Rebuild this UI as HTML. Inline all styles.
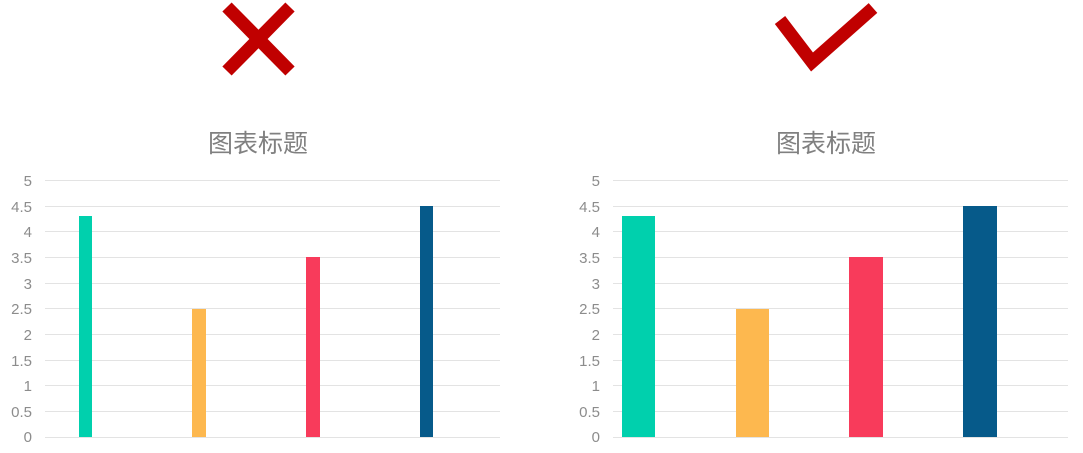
<!DOCTYPE html>
<html><head><meta charset="utf-8"><style>
html,body{margin:0;padding:0;background:#fff;width:1083px;height:453px;overflow:hidden}
svg text{font-family:"Liberation Sans","Noto Sans CJK SC",sans-serif}
</style></head><body>
<svg width="1083" height="453" viewBox="0 0 1083 453" xmlns="http://www.w3.org/2000/svg">
<g stroke="#c00000" stroke-width="13" fill="none" stroke-linecap="butt">
<line x1="227" y1="7" x2="290" y2="71"/>
<line x1="290" y1="7" x2="227" y2="71"/>
<polyline points="780,20 812,62 873,8"/>
</g>
<g font-size="25" fill="#808080" text-anchor="middle">
<text x="258" y="152">图表标题</text>
<text x="826" y="152">图表标题</text>
</g>
<g stroke="#e3e3e3" stroke-width="1">
<line x1="45" x2="500" y1="180.5" y2="180.5"/><line x1="45" x2="500" y1="206.5" y2="206.5"/>
<line x1="45" x2="500" y1="231.5" y2="231.5"/><line x1="45" x2="500" y1="257.5" y2="257.5"/>
<line x1="45" x2="500" y1="283.5" y2="283.5"/><line x1="45" x2="500" y1="308.5" y2="308.5"/>
<line x1="45" x2="500" y1="334.5" y2="334.5"/><line x1="45" x2="500" y1="360.5" y2="360.5"/>
<line x1="45" x2="500" y1="385.5" y2="385.5"/><line x1="45" x2="500" y1="411.5" y2="411.5"/>
<line x1="45" x2="500" y1="437.5" y2="437.5"/>
<line x1="613" x2="1068" y1="180.5" y2="180.5"/><line x1="613" x2="1068" y1="206.5" y2="206.5"/>
<line x1="613" x2="1068" y1="231.5" y2="231.5"/><line x1="613" x2="1068" y1="257.5" y2="257.5"/>
<line x1="613" x2="1068" y1="283.5" y2="283.5"/><line x1="613" x2="1068" y1="308.5" y2="308.5"/>
<line x1="613" x2="1068" y1="334.5" y2="334.5"/><line x1="613" x2="1068" y1="360.5" y2="360.5"/>
<line x1="613" x2="1068" y1="385.5" y2="385.5"/><line x1="613" x2="1068" y1="411.5" y2="411.5"/>
<line x1="613" x2="1068" y1="437.5" y2="437.5"/>
</g>
<g font-size="15" fill="#8c8c8c" text-anchor="end">
<text x="32" y="186">5</text><text x="32" y="212">4.5</text><text x="32" y="237">4</text>
<text x="32" y="263">3.5</text><text x="32" y="289">3</text><text x="32" y="314">2.5</text>
<text x="32" y="340">2</text><text x="32" y="366">1.5</text><text x="32" y="391">1</text>
<text x="32" y="417">0.5</text><text x="32" y="442">0</text>
<text x="600" y="186">5</text><text x="600" y="212">4.5</text><text x="600" y="237">4</text>
<text x="600" y="263">3.5</text><text x="600" y="289">3</text><text x="600" y="314">2.5</text>
<text x="600" y="340">2</text><text x="600" y="366">1.5</text><text x="600" y="391">1</text>
<text x="600" y="417">0.5</text><text x="600" y="442">0</text>
</g>
<rect x="79" y="216" width="13" height="221" fill="#00d0ad"/>
<rect x="192" y="309" width="14" height="128" fill="#fdb84f"/>
<rect x="306" y="257" width="14" height="180" fill="#f83b5b"/>
<rect x="420" y="206" width="13" height="231" fill="#065a8a"/>
<rect x="622" y="216" width="33" height="221" fill="#00d0ad"/>
<rect x="736" y="309" width="33" height="128" fill="#fdb84f"/>
<rect x="849" y="257" width="34" height="180" fill="#f83b5b"/>
<rect x="963" y="206" width="34" height="231" fill="#065a8a"/>
</svg>
</body></html>
